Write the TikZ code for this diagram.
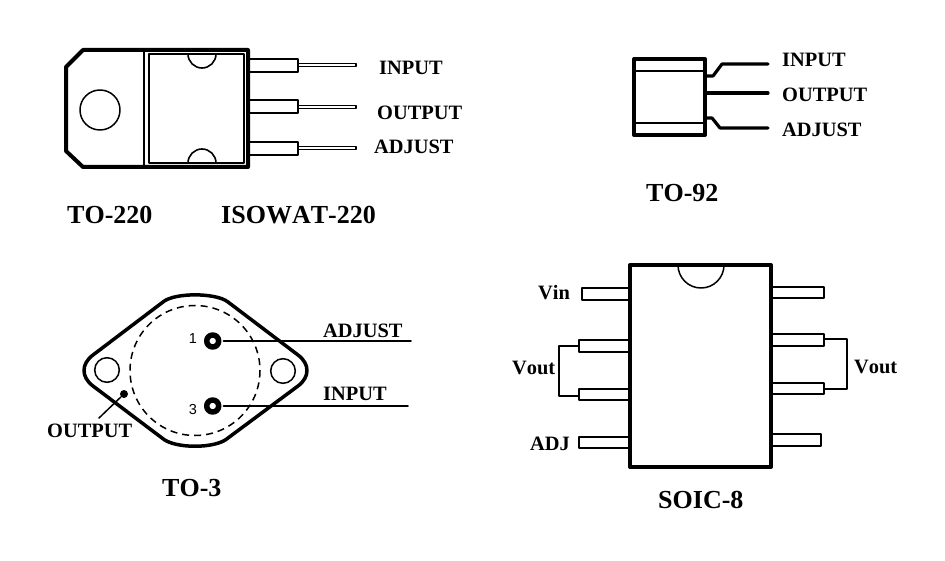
\documentclass[tikz,border=0pt]{standalone}
\usepackage{fontspec}
\setmainfont[Kerning=Off]{Liberation Serif}
\newfontfamily\pinfont{Liberation Sans}
\tikzset{
  pinlabel/.style={inner sep=0pt,anchor=west,font=\bfseries\fontsize{20.4}{20}\selectfont},
  pkgname/.style={inner sep=0pt,anchor=west,font=\bfseries\fontsize{26}{26}\selectfont},
  pinnum/.style={inner sep=0pt,font=\pinfont\fontsize{14.5}{15}\selectfont},
  pinring/.style={circle,draw,line width=5.5pt,minimum size=12pt,inner sep=0pt},
  thick body/.style={line width=4pt},
  lead/.style={line width=1.8pt}
}
\begin{document}
\begin{tikzpicture}[x=1pt,y=-1pt,line cap=round,line join=round]
	\useasboundingbox (0,0) rectangle (945,561);
	% TO-220
	\draw[thick body] (66,67) -- (83,50) -- (248,50) -- (248,167) -- (83,167) -- (66,151) -- cycle;
	\draw[line width=2pt] (144,50) -- (144,167);
	\draw[line width=1.6pt] (149,54) rectangle (244,163);
	\draw[line width=1.5pt] (100,110) circle (20);
	\draw[line width=1.6pt] (188,54) arc (180:0:14);
	\draw[line width=1.6pt] (188,163) arc (180:360:14);
	\foreach \y/\yy in {59/65,100/107,142/148}{
		\draw[lead] (250,\y) -- (298,\y) -- (298,\y+13) -- (250,\y+13);
		\draw[lead] (298,\yy-1.5) -- (356,\yy-1.5) -- (356,\yy+1.5) -- (298,\yy+1.5);
	}
	\node[pinlabel] (inputa) at (379,68) {INPUT};
	\node[pinlabel] (outputa) at (377,113) {OUTPUT};
	\node[pinlabel] (adjusta) at (374,147) {ADJUST};
	\node[pkgname] (toa) at (67,215) {TO-220};
	\node[pkgname] (isowat) at (221,215) {ISOWAT-220};
	% TO-92
	\draw[thick body] (634,59) rectangle (705,135);
	\draw[line width=1.5pt] (634,71) -- (705,71);
	\draw[line width=1.5pt] (634,123) -- (705,123);
	\draw[line width=3.2pt] (707,76) -- (713,76) -- (722,64) -- (768,64);
	\draw[line width=3.2pt] (707,93) -- (768,93);
	\draw[line width=3.2pt] (707,118) -- (712,118) -- (720,128) -- (768,128);
	\node[pinlabel] (inputb) at (782,60) {INPUT};
	\node[pinlabel] (outputb) at (782,95) {OUTPUT};
	\node[pinlabel] (adjustb) at (782,130) {ADJUST};
	\node[pkgname] (tob) at (646,193) {TO-92};
	% TO-3
	\draw[line width=3.5pt] (93,355) -- (163,302) .. controls (174,292.5) and (216,292.5) .. (228,302)
		-- (298,355) .. controls (310,364) and (310,377) .. (298,386)
		-- (228,438) .. controls (216,449) and (174,449) .. (162,438)
		-- (93,386) .. controls (81,377) and (81,364) .. (93,355) -- cycle;
	\draw[line width=1.5pt,line cap=butt,dash pattern=on 7pt off 5pt] (195,370.5) circle (65);
	\draw[line width=1.5pt] (107,370) circle (12.3);
	\draw[line width=1.5pt] (283,371) circle (12.3);
	\node[pinring] (pinone) at (212.7,341) {};
	\node[pinring] (pinthree) at (212.7,406) {};
	\node[pinnum] (numone) at (193,339) {1};
	\node[pinnum] (numthree) at (193,410) {3};
	\coordinate (adjustend) at (411,341);
	\coordinate (inputend) at (408,406);
	\draw[line width=1.5pt,shorten <=2pt] (pinone) -- (adjustend);
	\draw[line width=1.5pt,shorten <=2pt] (pinthree) -- (inputend);
	\node[circle,fill,inner sep=0pt,minimum size=8pt] (casedot) at (124,394) {};
	\coordinate (caseend) at (99,418);
	\draw[line width=1.5pt] (casedot) -- (caseend);
	\node[pinlabel] (adjustc) at (323,331) {ADJUST};
	\node[pinlabel] (inputc) at (323,394) {INPUT};
	\node[pinlabel] (outputc) at (47,431) {OUTPUT};
	\node[pkgname] (toc) at (162,488) {TO-3};
	% SOIC-8
	\draw[thick body] (630,265) rectangle (771,467);
	\draw[line width=1.5pt] (678,265) arc (180:0:23);
	\draw[lead] (628,288) -- (582,288) -- (582,300) -- (628,300);
	\draw[lead] (628,340) -- (579,340) -- (579,352) -- (628,352);
	\draw[lead] (628,389) -- (579,389) -- (579,400) -- (628,400);
	\draw[lead] (628,437) -- (579,437) -- (579,448) -- (628,448);
	\draw[lead] (773,287) -- (824,287) -- (824,298) -- (773,298);
	\draw[lead] (773,334) -- (824,334) -- (824,346) -- (773,346);
	\draw[lead] (773,383) -- (824,383) -- (824,394) -- (773,394);
	\draw[lead] (773,434) -- (821,434) -- (821,446) -- (773,446);
	\coordinate (lefttop) at (579,346);
	\coordinate (leftbot) at (579,396);
	\coordinate (righttop) at (824,339);
	\coordinate (rightbot) at (824,389);
	\draw[lead] (lefttop) -- (559,346) -- (559,396) -- (leftbot);
	\draw[lead] (righttop) -- (847,339) -- (847,389) -- (rightbot);
	\node[pinlabel] (vin) at (538,293) {Vin};
	\node[pinlabel] (voutl) at (512,368) {Vout};
	\node[pinlabel] (voutr) at (854,367) {Vout};
	\node[pinlabel] (adj) at (530,444) {ADJ};
	\node[pkgname] (tod) at (658,500) {SOIC-8};
\end{tikzpicture}
\end{document}
